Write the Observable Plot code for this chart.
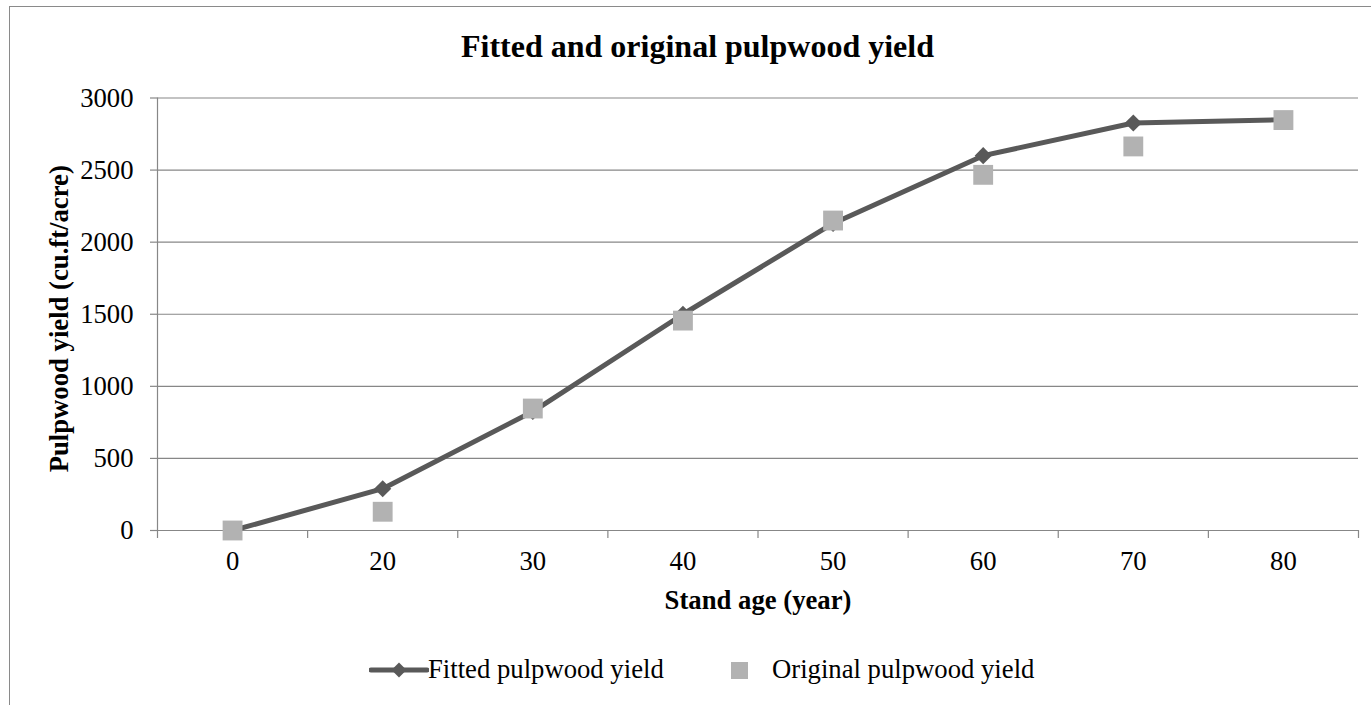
<!DOCTYPE html>
<html>
<head>
<meta charset="utf-8">
<script src="https://cdn.jsdelivr.net/npm/d3@7"></script>
<script src="https://cdn.jsdelivr.net/npm/@observablehq/plot@0.6"></script>
<style>
  html, body { margin: 0; padding: 0; background: #fff; width: 1371px; height: 705px; overflow: hidden; }
  #wrap { position: relative; width: 1371px; height: 705px; overflow: hidden; font-family: "Liberation Serif", "Times New Roman", serif; }
  #border { position: absolute; left: 9px; top: 6px; width: 1400px; height: 750px; border: 1.5px solid #8a8a8a; box-sizing: border-box; }
  #title { position: absolute; left: 0; top: 28px; width: 1395px; text-align: center; font-weight: bold; font-size: 32px; line-height: 36px; color: #000; }
  #chart { position: absolute; left: 0; top: 80px; }
  .leg { position: absolute; font-size: 26.7px; line-height: 30px; color: #000; white-space: nowrap; }
  .sw { position: absolute; }
</style>
</head>
<body>
<div id="wrap">
  <div id="border"></div>
  <div id="title">Fitted and original pulpwood yield</div>
  <div id="chart"></div>
  <svg class="sw" style="left:369px;top:660px" width="60" height="20">
    <line x1="2" y1="10" x2="58" y2="10" stroke="#595959" stroke-width="5" stroke-linecap="round"></line>
    <path d="M30,2.5L37.5,10L30,17.5L22.5,10Z" fill="#595959"></path>
  </svg>
  <div class="leg" style="left:428px;top:653.5px">Fitted pulpwood yield</div>
  <svg class="sw" style="left:731px;top:662px" width="17" height="17">
    <rect x="0" y="0" width="17" height="17" fill="#b2b2b2"></rect>
  </svg>
  <div class="leg" style="left:772px;top:653.5px">Original pulpwood yield</div>
</div>
<script>
const ages = ["0", "20", "30", "40", "50", "60", "70", "80"];
const fitted = [0, 290, 825, 1500, 2130, 2600, 2827, 2850];
const original = [0, 130, 846, 1456, 2150, 2467, 2664, 2847];
const yTicks = [0, 500, 1000, 1500, 2000, 2500, 3000];

const rows = ages.map((a, i) => ({i: i + 0.5, age: a, fitted: fitted[i], original: original[i]}));
const bounds = d3.range(ages.length + 1);
const gray = "#878787";

const chart = Plot.plot({
  width: 1371,
  height: 560,
  marginTop: 17.5,
  marginBottom: 110,
  marginLeft: 157,
  marginRight: 13,
  style: {fontFamily: "'Liberation Serif', 'Times New Roman', serif", fontSize: "26.7px", color: "#000", background: "transparent"},
  x: {type: "linear", domain: [0, ages.length]},
  y: {type: "linear", domain: [0, 3000]},
  marks: [
    Plot.gridY(yTicks, {stroke: gray, strokeOpacity: 1, strokeWidth: 1.2}),
    Plot.ruleX([0], {stroke: gray, strokeWidth: 1.2}),
    Plot.ruleY([0], {stroke: gray, strokeWidth: 1.2}),
    Plot.axisY({ticks: yTicks, label: null, tickSize: 7, tickPadding: 17, stroke: gray, strokeWidth: 1.2, fill: "#000", fontSize: 26.7, tickFormat: d => String(d)}),
    Plot.ruleX(bounds, {x: d => d, y1: 0, y2: 0, insetBottom: -8, stroke: gray, strokeWidth: 1.2}),
    Plot.axisX({ticks: rows.map(r => r.i), label: null, tickSize: 0, tickPadding: 21, fill: "#000", fontSize: 26.7, tickFormat: (d) => ages[Math.round(d - 0.5)]}),
    Plot.text(["Stand age (year)"], {frameAnchor: "bottom", lineAnchor: "middle", textAnchor: "middle", dy: 69.5, fontWeight: "bold", fontSize: 26.7, fill: "#000"}),
    Plot.text(["Pulpwood yield (cu.ft/acre)"], {frameAnchor: "left", lineAnchor: "middle", textAnchor: "middle", dx: -98.5, dy: 4.5, rotate: -90, fontWeight: "bold", fontSize: 26.7, fill: "#000"}),
    Plot.line(rows, {x: "i", y: "fitted", stroke: "#595959", strokeWidth: 5, strokeLinejoin: "round", strokeLinecap: "round"}),
    Plot.dot(rows, {x: "i", y: "fitted", symbol: d3.symbolDiamond2, r: 7.7, fill: "#595959", stroke: "none"}),
    Plot.dot(rows, {x: "i", y: "original", symbol: "square", r: 11.2, fill: "#b2b2b2", stroke: "none"})
  ]
});
document.getElementById("chart").appendChild(chart);
</script>
</body>
</html>
